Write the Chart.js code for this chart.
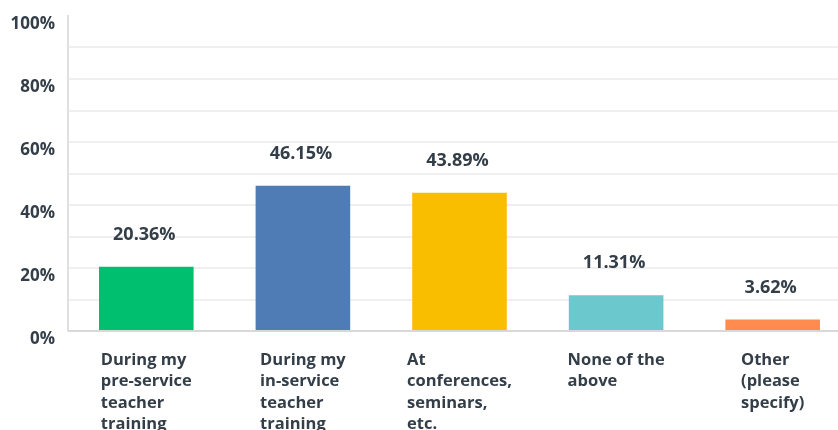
<!DOCTYPE html>
<html>
<head>
<meta charset="utf-8">
<script src="https://cdn.jsdelivr.net/npm/chart.js@4/dist/chart.umd.min.js"></script>
<style>
  html, body { margin: 0; padding: 0; background: #ffffff; overflow: hidden; }
  #wrap { position: relative; width: 860px; height: 451px; }
</style>
</head>
<body>
<div id="wrap"><canvas id="chart"></canvas></div>
<script>
// Where respondents learned about the topic (share of responses, %)
const categories = [
  ["During my", "pre-service", "teacher", "training"],
  ["During my", "in-service", "teacher", "training"],
  ["At", "conferences,", "seminars,", "etc."],
  ["None of the", "above"],
  ["Other", "(please", "specify)"]
];
const shares = [20.36, 46.15, 43.89, 11.31, 3.62];
const barColors = ["#00BF6F", "#507CB6", "#F9BE00", "#6BC8CD", "#FF8B4F"];
const yTicks = [0, 20, 40, 60, 80, 100];

const TEXT = "#333e48";
const FONT = "'Open Sans', 'Liberation Sans', sans-serif";

// Percentage labels above each bar
const valueLabels = {
  id: "valueLabels",
  afterDatasetsDraw(chart) {
    const ctx = chart.ctx;
    const meta = chart.getDatasetMeta(0);
    ctx.save();
    ctx.fillStyle = TEXT;
    ctx.font = "bold 18px " + FONT;
    ctx.textAlign = "center";
    ctx.textBaseline = "middle";
    meta.data.forEach((bar, i) => {
      ctx.fillText(shares[i].toFixed(2) + "%", bar.x - 2, bar.y - 32);
    });
    ctx.restore();
  }
};

// Category names: a left-aligned text block centred under each bar
const categoryLabels = {
  id: "categoryLabels",
  afterDraw(chart) {
    const ctx = chart.ctx;
    const meta = chart.getDatasetMeta(0);
    const top = chart.chartArea.bottom + 18;
    const lineH = 21.6;
    ctx.save();
    ctx.fillStyle = TEXT;
    ctx.font = "bold 16.5px " + FONT;
    ctx.textAlign = "left";
    ctx.textBaseline = "middle";
    meta.data.forEach((bar, i) => {
      const lines = categories[i];
      const w = Math.max(...lines.map((s) => ctx.measureText(s).width));
      const left = bar.x - w / 2;
      lines.forEach((s, j) => ctx.fillText(s, left, top + lineH * j + lineH / 2));
    });
    ctx.restore();
  }
};

new Chart(document.getElementById("chart"), {
  type: "bar",
  data: {
    labels: categories,
    datasets: [{
      data: shares,
      backgroundColor: barColors,
      borderWidth: 0,
      barPercentage: 0.604,
      categoryPercentage: 1
    }]
  },
  options: {
    responsive: true,
    maintainAspectRatio: false,
    animation: false,
    events: [],
    layout: { padding: { top: 16, right: 9, left: 0, bottom: 0 } },
    plugins: { legend: { display: false }, tooltip: { enabled: false } },
    scales: {
      x: {
        grid: { display: false, drawTicks: false },
        border: { display: true, color: "#d8d8d8", width: 2 },
        ticks: { display: false },
        afterFit(scale) { scale.height = 120; }
      },
      y: {
        min: 0,
        max: 100,
        grid: {
          drawTicks: false,
          lineWidth: 2,
          color: (c) => c.tick.value === 100 ? "rgba(0,0,0,0)" : (c.tick.value === 0 ? "#d8d8d8" : "#efefef")
        },
        border: { display: true, color: "#e0e0e0", width: 2 },
        ticks: {
          stepSize: 10,
          color: TEXT,
          font: { family: FONT, size: 17, weight: "bold" },
          padding: 13,
          labelOffset: 8,
          callback: (v) => yTicks.includes(v) ? v + "%" : ""
        },
        afterFit(scale) {
          scale.width = 68;
          scale.paddingTop = 0;
          scale.paddingBottom = 0;
        }
      }
    }
  },
  plugins: [valueLabels, categoryLabels]
});
</script>
</body>
</html>
